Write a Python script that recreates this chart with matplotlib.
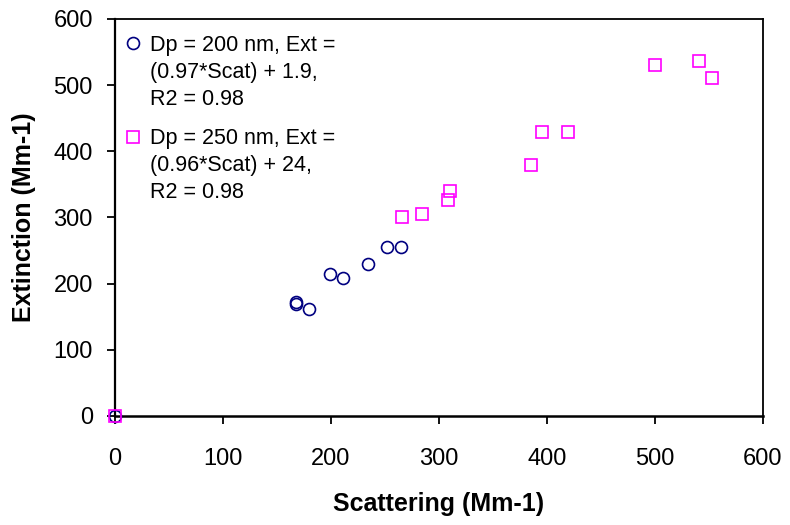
import matplotlib
matplotlib.use("Agg")
import matplotlib.pyplot as plt

plt.rcParams['font.family'] = ['Liberation Sans', 'DejaVu Sans']

# Dp = 200 nm
scat_200 = [0, 168, 168, 180, 199, 211, 234, 252, 265]
ext_200 = [0, 173, 170, 161, 214, 209, 229, 255, 255]

# Dp = 250 nm
scat_250 = [0, 266, 284, 310, 308, 385, 395, 419, 500, 541, 553]
ext_250 = [0, 301, 305, 340, 327, 380, 429, 429, 530, 537, 511]

label_200 = "Dp = 200 nm, Ext =\n(0.97*Scat) + 1.9,\nR2 = 0.98"
label_250 = "Dp = 250 nm, Ext =\n(0.96*Scat) + 24,\nR2 = 0.98"

fig = plt.figure(figsize=(7.9, 5.25), dpi=100)
ax = fig.add_axes([115 / 790, 1 - 416 / 525, 648 / 790, 397 / 525])

ax.plot(scat_200, ext_200, linestyle='none', marker='o', markersize=8.6,
        markerfacecolor='none', markeredgecolor='#000080', markeredgewidth=1.2,
        label=label_200, clip_on=False, zorder=3)
ax.plot(scat_250, ext_250, linestyle='none', marker='s', markersize=8.4,
        markerfacecolor='none', markeredgecolor='#FF00FF', markeredgewidth=1.2,
        label=label_250, clip_on=False, zorder=3)

ax.set_xlim(0, 600)
ax.set_ylim(0, 600)
ax.set_xticks(range(0, 601, 100))
ax.set_yticks(range(0, 601, 100))
for sp in ax.spines.values():
    sp.set_linewidth(1.3)
ax.spines['left'].set_linewidth(1.6)
ax.spines['bottom'].set_linewidth(1.8)

ax.tick_params(axis='both', direction='out', length=6, width=1.3, labelsize=17)
ax.tick_params(axis='x', pad=17)
ax.tick_params(axis='y', pad=10)

ax.set_xlabel('Scattering (Mm-1)', fontsize=18, fontweight='bold', va='center')
ax.set_ylabel('Extinction (Mm-1)', fontsize=18, fontweight='bold', va='center')
ax.xaxis.set_label_coords(0.5, -(504 - 416) / 397)
ax.yaxis.set_label_coords(-(115 - 24) / 648, 0.5)

line_sp = 1.37
leg = ax.legend(loc='upper left', bbox_to_anchor=(124 / 790, 1 - 35 / 525),
                bbox_transform=fig.transFigure, frameon=False, fontsize=15.5,
                handlelength=0.8, handletextpad=0.4, borderpad=0,
                borderaxespad=0, labelspacing=0.85, numpoints=1)
# put each legend marker beside the first line of its label
for txt in leg.get_texts():
    txt.set_linespacing(line_sp)
for h in leg.legend_handles:
    h.set_ydata([y + 15.5 * line_sp for y in h.get_ydata()])

fig.savefig('out.png', dpi=100)
